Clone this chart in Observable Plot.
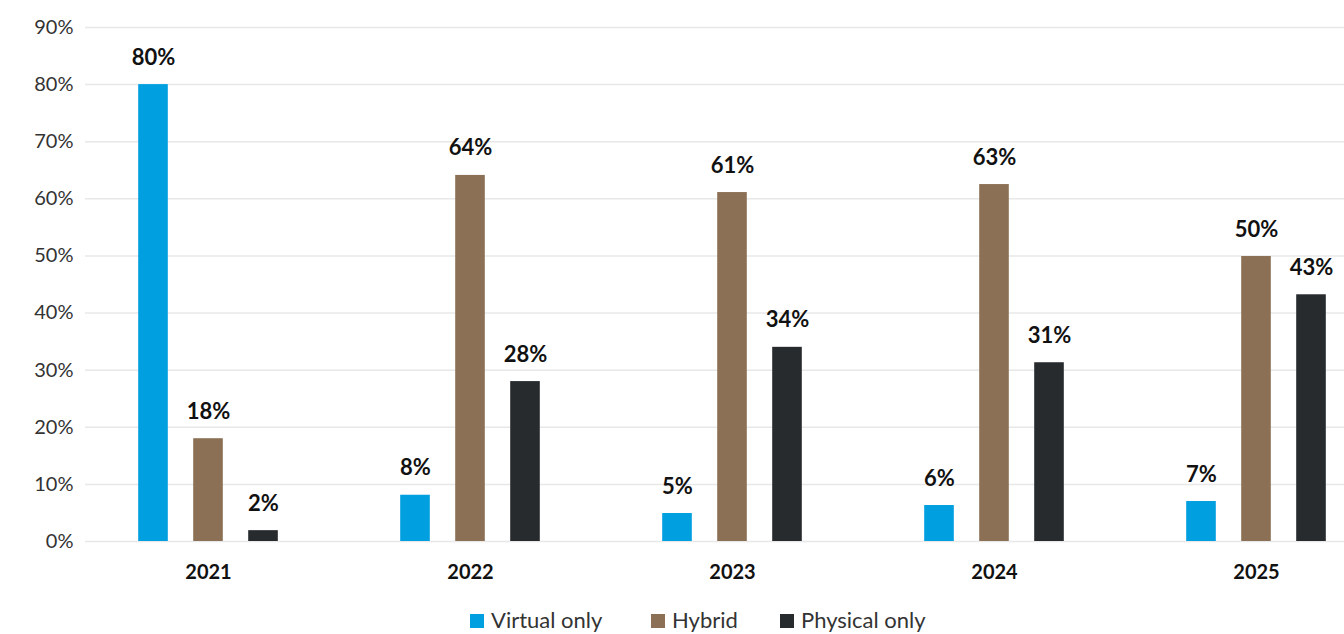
<!DOCTYPE html>
<html>
<head>
<meta charset="utf-8">
<script src="https://cdn.jsdelivr.net/npm/d3@7"></script>
<script src="https://cdn.jsdelivr.net/npm/@observablehq/plot@0.6"></script>
<style>
  html, body { margin: 0; padding: 0; background: #fff; overflow: hidden; }
  body { width: 1344px; height: 634px; position: relative; font-family: Lato, "Noto Sans", sans-serif; }
  #chart { position: absolute; left: 0; top: 0; }
  .legend { position: absolute; top: 608px; height: 24px; font-size: 22px; color: #333; white-space: nowrap; }
  .legend .sw { position: absolute; top: 6px; width: 14px; height: 14px; }
  .legend .lb { position: absolute; top: 0; line-height: 24px; }
</style>
</head>
<body>
<div id="chart"></div>
<div id="legend"></div>
<script>
// ---- data ----
const years = ["2021", "2022", "2023", "2024", "2025"];
const series = ["Virtual only", "Hybrid", "Physical only"];
const virtualOnly = [80, 8.1, 4.9, 6.3, 7.0];
const hybrid = [18, 64.1, 61.1, 62.5, 49.9];
const physicalOnly = [1.9, 28, 34, 31.3, 43.2];
const yTicks = [0, 10, 20, 30, 40, 50, 60, 70, 80, 90];

// ---- styles ----
const colors = ["#009fe0", "#8b7055", "#272b2e"];
const offsets = [-55, 0, 55];
const barW = 30;

const values = [virtualOnly, hybrid, physicalOnly];
const rows = [];
series.forEach((s, i) => years.forEach((y, j) => rows.push({year: y, series: s, value: values[i][j]})));

const xRange = [76, 1388];
const band = (xRange[1] - xRange[0]) / years.length;
const inset = (band - barW) / 2;

const marks = [
  Plot.ruleY(yTicks, {stroke: "#e8e8e8", strokeWidth: 1.5})
];
series.forEach((s, i) => {
  const d = rows.filter(r => r.series === s);
  marks.push(Plot.barY(d, {x: "year", y: "value", fill: colors[i], dx: offsets[i], insetLeft: inset, insetRight: inset}));
  marks.push(Plot.text(d, {x: "year", y: "value", text: r => Math.round(r.value) + "%", dx: offsets[i], dy: -20,
    lineAnchor: "bottom", fontWeight: "bold", fontSize: 22, fill: "#111"}));
});
marks.push(Plot.axisY({ticks: yTicks, tickFormat: d => d + "%", tickSize: 0, tickPadding: 12, fontSize: 20, color: "#333", label: null}));
marks.push(Plot.axisX({tickSize: 0, tickPadding: 23, fontSize: 20, fontWeight: "bold", color: "#111", label: null}));

const chart = Plot.plot({
  width: 1344,
  height: 600,
  marginLeft: 85,
  marginRight: 0,
  marginTop: 27,
  marginBottom: 59,
  style: {fontFamily: "Lato, 'Noto Sans', sans-serif", background: "#fff"},
  x: {type: "band", domain: years, range: xRange, padding: 0},
  y: {domain: [0, 90], range: [541, 27]},
  marks
});
document.getElementById("chart").appendChild(chart);

// ---- legend ----
const legendPos = [470, 651, 780];
const leg = document.getElementById("legend");
series.forEach((s, i) => {
  const item = document.createElement("div");
  item.className = "legend";
  item.style.left = legendPos[i] + "px";
  item.innerHTML = `<span class="sw" style="left:0;background:${colors[i]}"></span><span class="lb" style="left:21px">${s}</span>`;
  leg.appendChild(item);
});
</script>
</body>
</html>
